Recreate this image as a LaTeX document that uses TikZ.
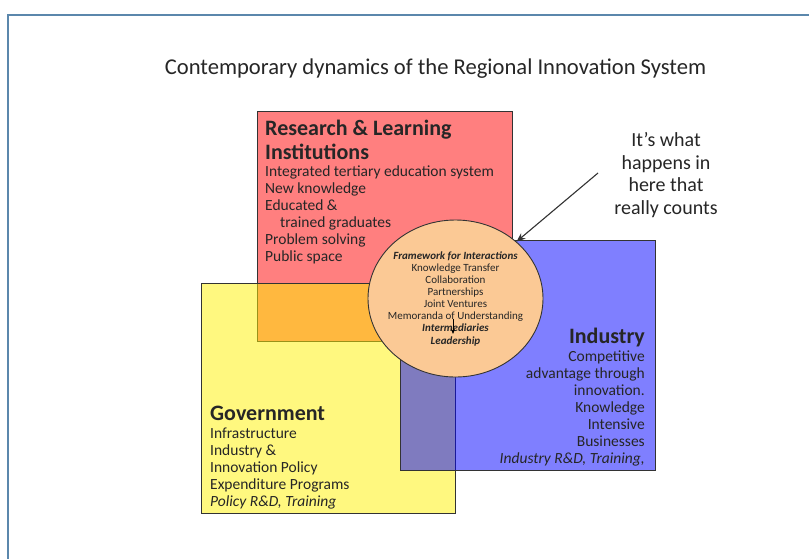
\documentclass[tikz,border=0pt]{standalone}
\usepackage{fontspec}
\setmainfont{Carlito}
\usetikzlibrary{shapes.geometric,arrows.meta}
\definecolor{frameblue}{HTML}{5B87AC}
\definecolor{txt}{HTML}{262626}
\definecolor{peach}{HTML}{FBC995}
\definecolor{edge}{HTML}{333333}
\begin{document}
\begin{tikzpicture}[x=1pt,y=-1pt,
  box/.style={draw=edge, line width=0.9pt, fill opacity=0.5, draw opacity=1, inner sep=0pt, anchor=north west},
  head/.style={font=\fontsize{22}{24}\selectfont\bfseries, text=txt, inner sep=0pt},
  body/.style={font=\fontsize{15.5}{17}\selectfont, text=txt, inner sep=0pt},
  small/.style={font=\fontsize{11}{12.1}\selectfont, text=txt, inner sep=0pt, align=center},
  note/.style={font=\fontsize{20}{22.4}\selectfont, text=txt, inner sep=0pt, align=center}]
\useasboundingbox (0,0) rectangle (809,558);
\fill[white] (0,0) rectangle (809,558);
% frame
\draw[frameblue, line width=2.5pt] (815,15) -- (8,15) -- (8,565);
% title
\node[font=\fontsize{22.6}{24}\selectfont, text=txt, inner sep=0pt, anchor=base] (title) at (435.5,74) {Contemporary dynamics of the Regional Innovation System};
% boxes
\node[box, fill=red, minimum width=255pt, minimum height=230pt] (rbox) at (257,111) {};
\node[box, fill=yellow, minimum width=254pt, minimum height=230pt] (ybox) at (201,283) {};
\node[box, fill=blue, minimum width=255pt, minimum height=230pt] (bbox) at (400,240) {};
% circle
\node[ellipse, draw=edge, line width=0.9pt, fill=peach, minimum width=175pt, minimum height=157pt, inner sep=0pt] (circ) at (455.5,298.5) {};
% research text (anchor = baseline of last line)
\node[head, align=left, anchor=base west] (rhead) at (265,159) {Research \& Learning\\Institutions};
\node[body, align=left, anchor=base west] (rbody) at (265,261) {Integrated tertiary education system\\New knowledge\\Educated \&\\\hspace*{15pt}trained graduates\\Problem solving\\Public space};
% government text
\node[head, anchor=base west] (ghead) at (210,420) {Government};
\node[body, align=left, anchor=base west, font=\fontsize{15.5}{16.8}\selectfont] (gbody) at (210,506) {Infrastructure\\Industry \&\\Innovation Policy\\Expenditure Programs\\\textit{Policy R\&D, Training}};
% industry text
\node[head, anchor=base east] (ihead) at (645,343) {Industry};
\node[body, align=right, anchor=base east] (ibody) at (645,463) {Competitive\\advantage through\\innovation.\\Knowledge\\Intensive\\Businesses\\\textit{Industry R\&D, Training,}};
% circle text
\node[small, anchor=base] (ctext) at (455.5,344) {\textbf{\textit{Framework for Interactions}}\\Knowledge Transfer\\Collaboration\\Partnerships\\Joint Ventures\\Memoranda of Understanding\\\textbf{\textit{Intermediaries}}\\\textbf{\textit{Leadership}}};
\coordinate (sa) at (453,319);
\coordinate (sb) at (453,334);
\draw[-{Stealth[length=5pt,width=4pt]}, line width=1pt, black] (sa) -- (sb);
% note
\node[note, anchor=base] (notetext) at (666,214) {It’s what\\happens in\\here that\\really counts};
\coordinate (ns) at (598,173);
\draw[-{Stealth[length=9pt,width=7pt]}, line width=1.1pt, edge] (ns) -- (circ.43);
\end{tikzpicture}
\end{document}
